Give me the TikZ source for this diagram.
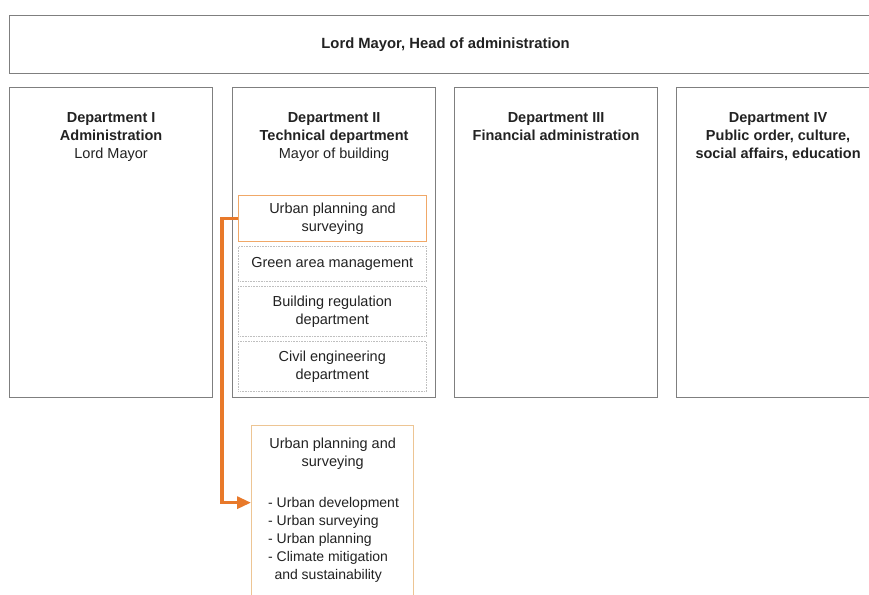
\documentclass[tikz,border=0pt]{standalone}
\usepackage{fontspec}
\setmainfont{Liberation Sans}
\usetikzlibrary{arrows.meta, positioning}

\definecolor{boxgray}{HTML}{7F7F7F}
\definecolor{txtgray}{HTML}{222222}
\definecolor{linkorange}{HTML}{E8792A}
\definecolor{hotedge}{HTML}{F0A868}
\definecolor{tanedge}{HTML}{EDC594}

\begin{document}
\begin{tikzpicture}[
  x=1pt, y=-1pt,
  font=\fontsize{14.5}{18}\selectfont,
  text=txtgray,
  top/.style={draw=boxgray, line width=1.2pt, minimum width=872pt, minimum height=58pt, anchor=north west, font=\fontsize{14.8}{18}\selectfont\bfseries},
  dept/.style={draw=boxgray, line width=1.2pt, minimum width=203pt, minimum height=310pt, anchor=north west},
  head/.style={align=center, inner sep=0pt},
  unit/.style={draw=gray!50, densely dotted, line width=0.6pt, minimum width=188pt, anchor=north west, align=center, inner sep=0pt},
  hot/.style={draw=hotedge, solid, line width=1.1pt},
  detail/.style={draw=tanedge, line width=1.3pt, minimum width=162pt, minimum height=180pt, anchor=north west},
  link/.style={-{Triangle[length=14pt,width=12pt]}, draw=linkorange, line width=3.2pt}
]
\useasboundingbox (0,0) rectangle (869,594);

% head of administration
\node[top] (lm) at (9,15) {Lord Mayor, Head of administration};

% the four departments
\node[dept] (d1) at (9,87)   {};
\node[dept] (d2) at (232,87) {};
\node[dept] (d3) at (454,87) {};
\node[dept] (d4) at (676,87) {};

\node[head, below=25pt of d1.north] (d1t) {\textbf{Department I}\\\textbf{Administration}\\Lord Mayor};
\node[head, below=25pt of d2.north] (d2t) {\textbf{Department II}\\\textbf{Technical department}\\Mayor of building};
\node[head, below=25pt of d3.north] (d3t) {\textbf{Department III}\\\textbf{Financial administration}};
\node[head, below=25pt of d4.north] (d4t) {\textbf{Department IV}\\\textbf{Public order, culture,}\\\textbf{social affairs, education}};

% offices of department II
\node[unit, hot, minimum height=46pt] (up) at (238,195) {Urban planning and\\surveying};
\node[unit, minimum height=35pt] (gam) at (238,246) {Green area management};
\node[unit, minimum height=50pt] (brd) at (238,286) {Building regulation\\department};
\node[unit, minimum height=50pt] (ced) at (238,341) {Civil engineering\\department};

% detail of urban planning
\node[detail] (usd) at (251,425) {};
\node[head, below=13pt of usd.north] (usdt) {Urban planning and\\surveying};
\node[align=left, inner sep=0pt, font=\fontsize{14}{18}\selectfont, below right=72pt and 17pt of usd.north west] (usdl)
  {- Urban development\\- Urban surveying\\- Urban planning\\- Climate mitigation\\\hspace{0.45em}and sustainability};

\draw[link] (up.west) -- ++(-16,0) |- ([yshift=13pt]usd.west);
\end{tikzpicture}
\end{document}
